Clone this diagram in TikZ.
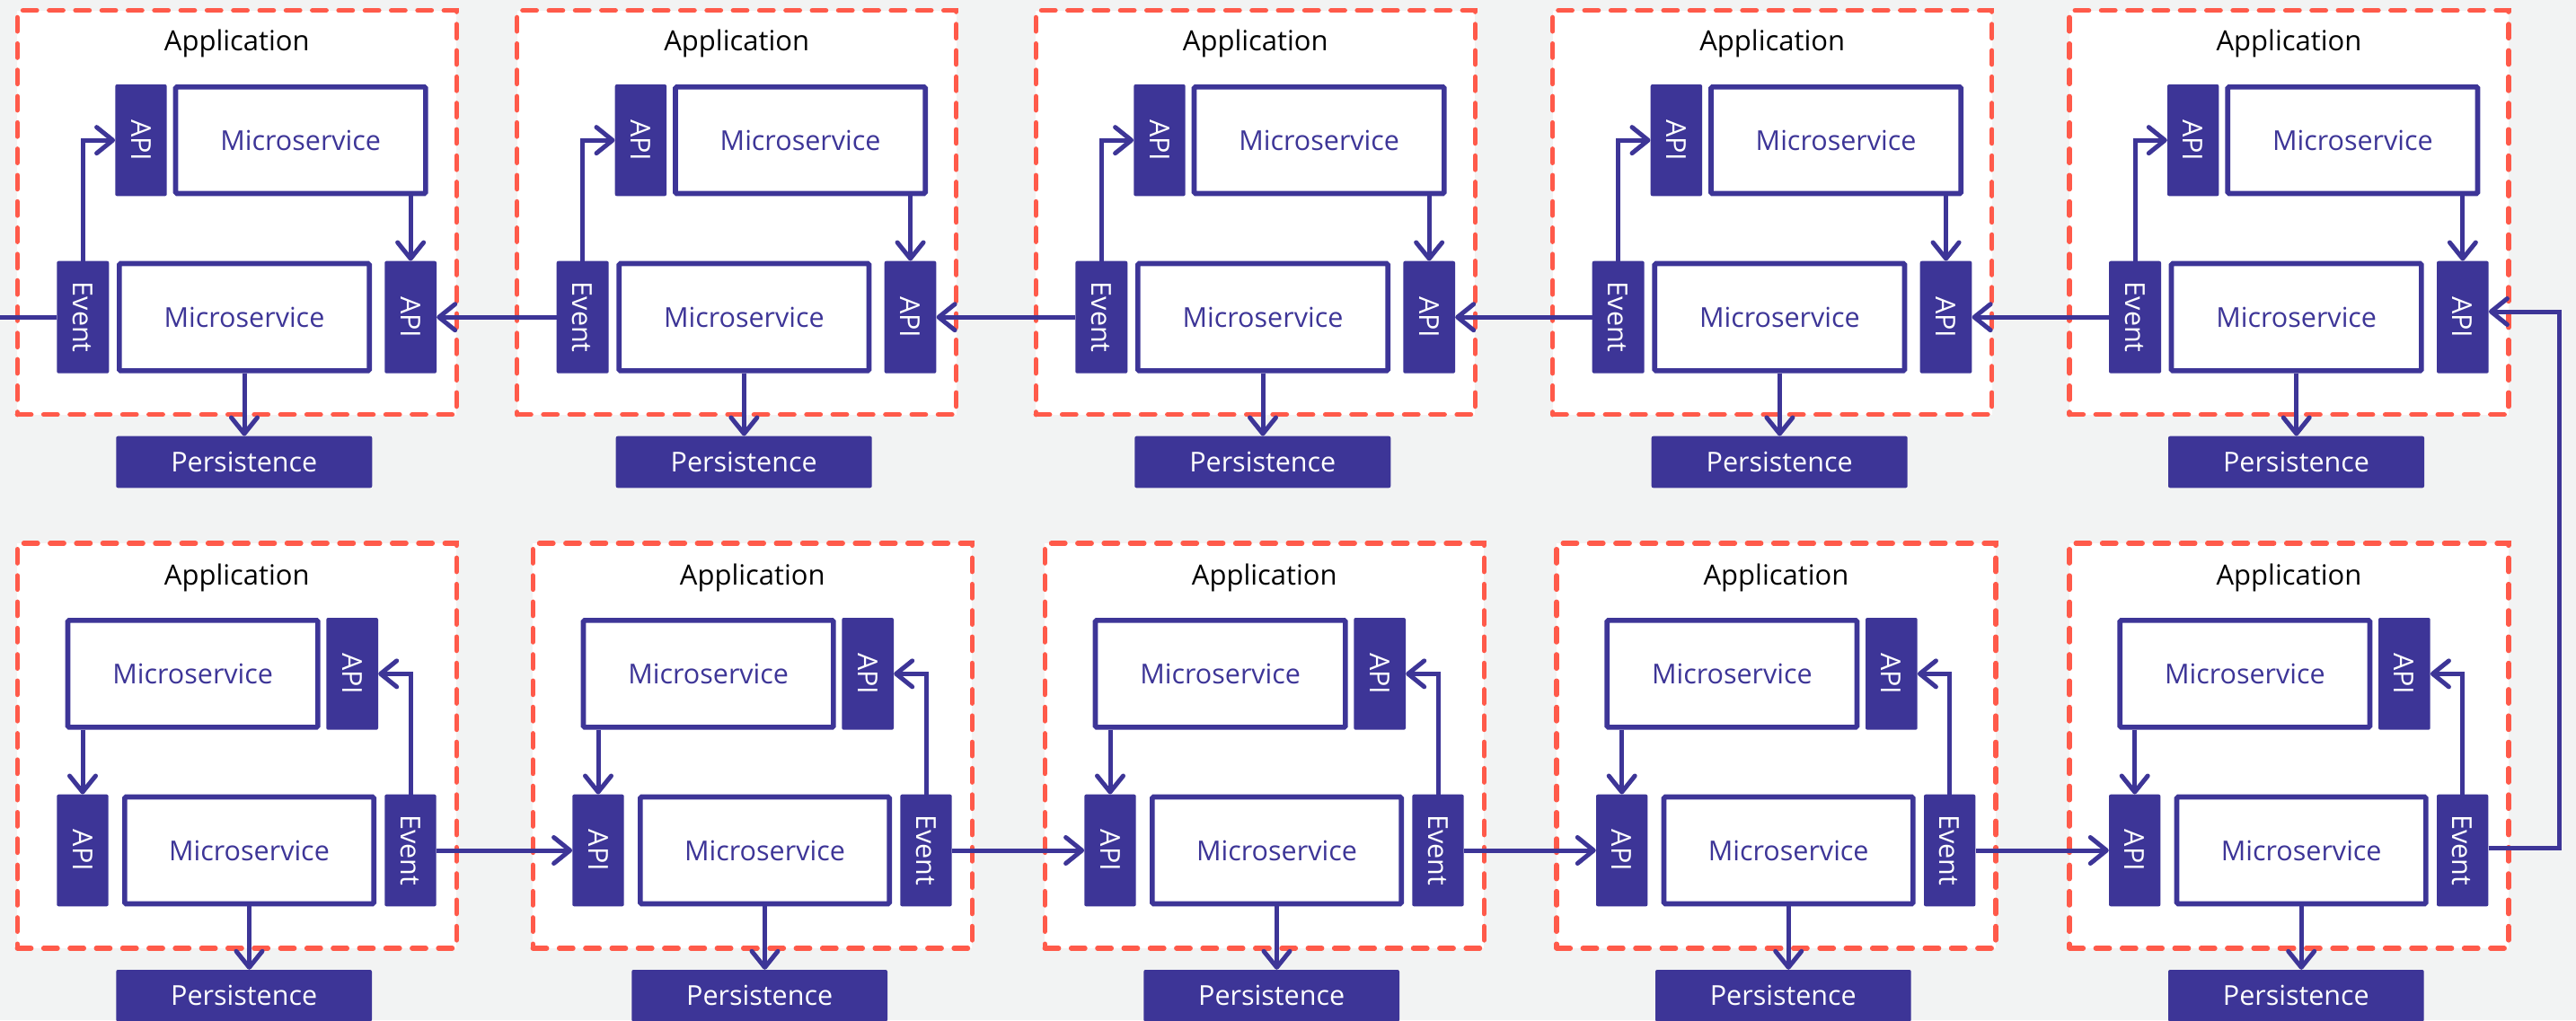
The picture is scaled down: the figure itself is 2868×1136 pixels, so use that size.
\documentclass[tikz,border=0pt]{standalone}
\usepackage{fontspec}
\setmainfont{Open Sans}
\usetikzlibrary{arrows.meta}
\definecolor{ink}{RGB}{61,53,151}
\definecolor{appred}{RGB}{255,90,74}
\definecolor{bgcol}{RGB}{242,243,243}
\newcommand\lblfont{\fontsize{30.5}{36}\selectfont}
\newcommand\titlefont{\fontsize{31}{36}\selectfont}
\tikzset{
  fillbox/.style={fill=ink, inner sep=0pt, rounded corners=2pt, text=white, font=\lblfont},
  vlabel/.style={rotate=-90, text=white, font=\lblfont, inner sep=0pt},
  msbox/.style={draw=ink, line width=5.7pt, fill=white, rounded corners=1.5pt, text=ink, font=\lblfont, inner sep=0pt, minimum width=278.3pt},
  appbox/.style={draw=appred, line width=5.4pt, dash pattern=on 15.4pt off 13.9pt, line cap=round, fill=white, inner sep=0pt, minimum width=489pt},
  conn/.style={draw=ink, line width=5pt, -{Straight Barb[length=18pt,width=29pt,round]}},
  plainline/.style={draw=ink, line width=5pt},
  titletext/.style={anchor=base, font=\titlefont, text=black, inner sep=0pt}
}
\newcommand\apptop[3]{%
  \begin{scope}[shift={(#1,#2)}]
    \node[appbox, minimum height=450pt] (#3box) at (244.5,225) {};
    \node[titletext] (#3title) at (244.5,45) {Application};
    \node[fillbox, minimum width=57.4pt, minimum height=124.3pt] (#3ua) at (137.7,144.45) {};
    \node[vlabel] (#3uat) at (#3ua.center) {API};
    \node[msbox, minimum height=118.6pt] (#3um) at (315.4,144.45) {Microservice};
    \node[fillbox, minimum width=58pt, minimum height=125pt] (#3ev) at (73,341.5) {};
    \node[vlabel] (#3evt) at (#3ev.center) {Event};
    \node[msbox, minimum height=119.3pt] (#3lm) at (252.7,341.5) {Microservice};
    \node[fillbox, minimum width=57.7pt, minimum height=125pt] (#3la) at (437.85,341.5) {};
    \node[vlabel] (#3lat) at (#3la.center) {API};
    \node[fillbox, minimum width=285pt, minimum height=57.6pt] (#3ps) at (252.5,502.8) {Persistence};
    \draw[conn] (#3ev.north) |- (#3ua.west);
    \draw[conn] (#3um.south -| #3la.north) -- (#3la.north);
    \draw[conn] (#3lm.south) -- (#3lm.south |- #3ps.north);
  \end{scope}}
\newcommand\appbot[3]{%
  \begin{scope}[shift={(#1,#2)}]
    \node[appbox, minimum height=451pt] (#3box) at (244.5,225.5) {};
    \node[titletext] (#3title) at (244.5,46) {Application};
    \node[msbox, minimum height=119pt] (#3um) at (195.4,145.35) {Microservice};
    \node[fillbox, minimum width=57.7pt, minimum height=124.7pt] (#3ua) at (372.85,145.35) {};
    \node[vlabel] (#3uat) at (#3ua.center) {API};
    \node[fillbox, minimum width=57.4pt, minimum height=124.6pt] (#3la) at (72.7,342) {};
    \node[vlabel] (#3lat) at (#3la.center) {API};
    \node[msbox, minimum width=277.3pt, minimum height=118.9pt] (#3lm) at (258.2,342) {Microservice};
    \node[fillbox, minimum width=57.4pt, minimum height=124.6pt] (#3ev) at (437.7,342) {};
    \node[vlabel] (#3evt) at (#3ev.center) {Event};
    \node[fillbox, minimum width=284.7pt, minimum height=57.6pt] (#3ps) at (252.35,503.8) {Persistence};
    \draw[conn] (#3um.south -| #3la.north) -- (#3la.north);
    \draw[conn] (#3ev.north) |- (#3ua.east);
    \draw[conn] (#3lm.south) -- (#3lm.south |- #3ps.north);
  \end{scope}}
\begin{document}
\begin{tikzpicture}[x=1pt,y=-1pt]
\useasboundingbox (0,0) rectangle (2868,1136);
\clip (0,0) rectangle (2868,1136);
\fill[bgcol] (0,0) rectangle (2868,1136);
\apptop{19.3}{11.7}{ta}
\apptop{575.7}{11.7}{tb}
\apptop{1153.3}{11.7}{tc}
\apptop{1728.7}{11.7}{td}
\apptop{2304}{11.7}{te}
\appbot{19.3}{605}{ba}
\appbot{593.3}{605}{bb}
\appbot{1163.3}{605}{bc}
\appbot{1733}{605}{bd}
\appbot{2304}{605}{be}
% top row: right to left
\coordinate (leftend) at (0,353.2);
\draw[plainline] (taev.west) -- (leftend);
\draw[conn] (tbev.west) -- (tala.east);
\draw[conn] (tcev.west) -- (tbla.east);
\draw[conn] (tdev.west) -- (tcla.east);
\draw[conn] (teev.west) -- (tdla.east);
% bottom row: left to right
\draw[conn] (baev.east) -- (bbla.west);
\draw[conn] (bbev.east) -- (bcla.west);
\draw[conn] (bcev.east) -- (bdla.west);
\draw[conn] (bdev.east) -- (bela.west);
% loop back on the right
\coordinate (rbot) at (2849.6,944);
\coordinate (rtop) at (2849.6,347);
\draw[conn] (beev.east |- rbot) -- (rbot) -- (rtop) -- (tela.east |- rtop);
\end{tikzpicture}
\end{document}
